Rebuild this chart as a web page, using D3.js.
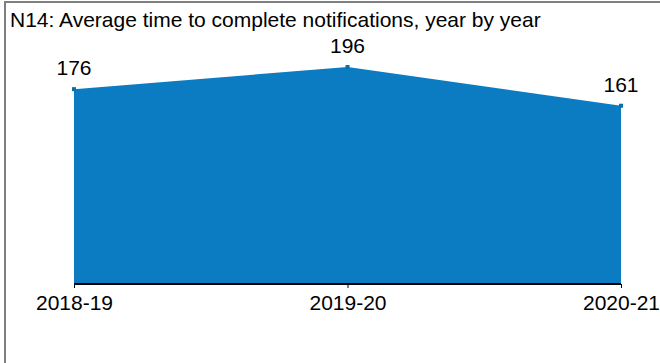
<!DOCTYPE html>
<html><head><meta charset="utf-8">
<script src="https://cdn.jsdelivr.net/npm/d3@7"></script>
<style>body{margin:0;background:#fff}svg{display:block}text{font-family:"Liberation Sans",Arial,sans-serif;fill:#000}</style>
</head><body><svg id="c" width="660" height="363"></svg>
<script>
const title = "N14: Average time to complete notifications, year by year";
const categories = ["2018-19", "2019-20", "2020-21"];
const values = [176, 196, 161];

const svg = d3.select("#c");
svg.append("rect").attr("x",5).attr("y",2).attr("width",700).attr("height",400)
  .attr("fill","#fff").attr("stroke","#7f7f7f").attr("stroke-width",2);

svg.append("text").attr("x",10).attr("y",27).attr("font-size",21).text(title);

const x = d3.scalePoint().domain(categories).range([74, 621]);
const y = d3.scaleLinear().domain([0, 196]).range([284, 67]);

const area = d3.area().x((d,i)=>x(categories[i])).y0(y(0)).y1(d=>y(d));
svg.append("path").datum(values).attr("d", area).attr("fill","#0b7cc1");

svg.selectAll("rect.m").data(values).join("rect").attr("class","m")
  .attr("x",(d,i)=>x(categories[i])-2).attr("y",d=>y(d)-2).attr("width",4).attr("height",4)
  .attr("fill","#0a6fb0");

const ax = svg.append("g").attr("transform",`translate(0,${y(0)})`)
  .call(d3.axisBottom(x).tickSize(4).tickPadding(7));
ax.select(".domain").attr("stroke","#000").attr("stroke-width",2).attr("d",`M${x(categories[0])},0H${x(categories[2])}`);
ax.selectAll(".tick line").attr("stroke","#000");
ax.selectAll(".tick text").attr("font-size",21).attr("font-family","Liberation Sans, Arial, sans-serif").attr("fill","#000");

svg.selectAll("text.v").data(values).join("text").attr("class","v")
  .attr("x",(d,i)=>x(categories[i])).attr("y",d=>y(d)-14)
  .attr("text-anchor","middle").attr("font-size",21).text(d=>d);
</script></body></html>
